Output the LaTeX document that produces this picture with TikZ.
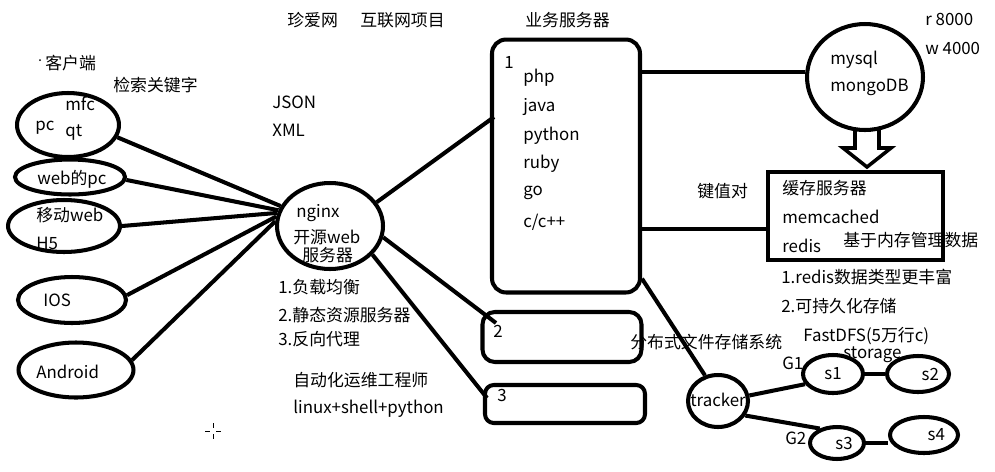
\documentclass[tikz,border=0pt]{standalone}
\usepackage{fontspec}
\setmainfont{Noto Sans CJK SC}
\usetikzlibrary{shapes.geometric}

\begin{document}
\begin{tikzpicture}[x=0.02cm,y=-0.02cm,
  every node/.style={inner sep=0pt,font=\fontsize{9.6}{11}\selectfont},
  t/.style={anchor=west},
  oval/.style={ellipse,draw,line width=2.3pt},
  box/.style={draw,line width=2.3pt},
  link/.style={line width=2.3pt}]
  \useasboundingbox (0,0) rectangle (995,471);

  % titles
  \node[t] (zhenai) at (287,20) {珍爱网};
  \node[t] (proj) at (360,20) {互联网项目};
  \node[t] (biz) at (525,20) {业务服务器};
  \node[t] (r8) at (925,19) {r 8000};
  \node[t] (w4) at (925,48) {w 4000};

  % clients
  \node[t] (kehu) at (45,63) {客户端};
  \fill (40,60) circle (1);
  \node[t] (jiansuo) at (113,85) {检索关键字};
  \node[oval,minimum width=2.04cm,minimum height=1.28cm] (pc) at (68,125) {};
  \node[t] (mfc) at (65,104) {mfc};
  \node[t] (pct) at (35,128) {pc};
  \node[t] (qt) at (65,133) {qt};
  \node[oval,minimum width=2.2cm,minimum height=0.7cm] (webpc) at (70,177) {};
  \node[t] (webpct) at (37,179) {web的pc};
  \node[oval,minimum width=2.24cm,minimum height=1.04cm] (mob) at (64,226) {};
  \node[t] (mobt) at (36,215) {移动web};
  \node[t] (h5) at (36,243) {H5};
  \node[oval,minimum width=2.16cm,minimum height=0.92cm] (ios) at (72,300) {};
  \node[t] (iost) at (43,300) {IOS};
  \node[oval,minimum width=2.3cm,minimum height=1.1cm] (andr) at (76,370) {};
  \node[t] (andrt) at (36,372) {Android};

  \node[t] (json) at (272,102) {JSON};
  \node[t] (xml) at (272,130) {XML};

  % nginx
  \node[oval,minimum width=2.12cm,minimum height=1.72cm] (nginx) at (330,226) {};
  \node[t] (ngt) at (296,213) {nginx};
  \node[t] (kaiyuan) at (293,237) {开源web};
  \node[t] (fwq) at (302,255) {服务器};
  \node[t] (n1) at (278,287) {1.负载均衡};
  \node[t] (n2) at (278,315) {2.静态资源服务器};
  \node[t] (n3) at (278,339) {3.反向代理};
  \node[t] (ops) at (293,380) {自动化运维工程师};
  \node[t] (lsp) at (293,409) {linux+shell+python};

  % business servers
  \node[box,rounded corners=8pt,minimum width=2.96cm,minimum height=5.06cm] (box1) at (566,166) {};
  \node[t] (one) at (504,62) {1};
  \node[t] (php) at (523,78) {php};
  \node[t] (java) at (523,107) {java};
  \node[t] (py) at (523,136) {python};
  \node[t] (ruby) at (523,164) {ruby};
  \node[t] (go) at (523,193) {go};
  \node[t] (cpp) at (523,222) {c/c++};
  \node[box,rounded corners=7pt,minimum width=3.18cm,minimum height=1cm] (box2) at (562,337) {};
  \node[t] (two) at (493,331) {2};
  \node[box,rounded corners=5pt,minimum width=3.2cm,minimum height=0.76cm] (box3) at (565,404) {};
  \node[t] (three) at (497,395) {3};

  % databases
  \node[oval,minimum width=2.32cm,minimum height=2.12cm] (mysql) at (865,77) {};
  \node[t] (mysqlt) at (830,60) {mysql};
  \node[t] (mongo) at (830,87) {mongoDB};
  \node[box,minimum width=3.5cm,minimum height=1.76cm] (cache) at (855.5,216) {};
  \node[t] (hc) at (782,188) {缓存服务器};
  \node[t] (memc) at (782,217) {memcached};
  \node[t] (redis) at (782,246) {redis};
  \node[t] (mem) at (843,240) {基于内存管理数据};
  \node[t] (kv) at (697,191) {键值对};
  \node[t] (r1) at (781,277) {1.redis数据类型更丰富};
  \node[t] (r2) at (781,306) {2.可持久化存储};

  % FastDFS
  \node[t] (dfs) at (630,342) {分布式文件存储系统};
  \node[t] (fast) at (803,336) {FastDFS(5万行c)};
  \node[t] (stor) at (843,355) {storage};
  \node[oval,minimum width=1.2cm,minimum height=1.04cm] (tracker) at (718,401) {};
  \node[t] (trt) at (690,400) {tracker};
  \node[t] (g1) at (782,363) {G1};
  \node[t] (g2) at (785,438) {G2};
  \node[oval,minimum width=1.2cm,minimum height=0.76cm] (s1) at (833,374) {s1};
  \node[oval,minimum width=1.24cm,minimum height=0.72cm] (s2) at (918,374) {\hspace{14pt}s2};
  \node[oval,minimum width=1.08cm,minimum height=0.64cm] (s3) at (837,443) {\hspace{8pt}s3};
  \node[oval,minimum width=1.36cm,minimum height=0.72cm] (s4) at (924,435) {\hspace{14pt}s4};

  \coordinate (b1a) at (494,117);
  \coordinate (b2a) at (496,323);
  \coordinate (b3a) at (487,398);

  \draw[link] (pc.-14) -- (nginx.158);
  \draw[link] (webpc.-3) -- (nginx.163);
  \draw[link] (mob.0) -- (nginx.166);
  \draw[link] (ios.5) -- (nginx.170);
  \draw[link] (andr.10) -- (nginx.175);
  \draw[link] (nginx.27) -- (b1a);
  \draw[link] (nginx.-12) -- (b2a);
  \draw[link] (nginx.-34) -- (b3a);
  \draw[link] (box1.east |- mysql.175) -- (mysql.175);
  \draw[link] (box1.east |- cache.-172) -- (cache.-172);
  \draw[link] (box1.-56) -- (tracker.117);
  \draw[link] (tracker.10) -- (s1.200);
  \draw[link] (tracker.-28) -- (s3.140);
  \draw[link] (s1) -- (s2);
  \draw[link] (s3.east) -- (s3.east -| s4.west);

  % hollow arrow
  \draw[line width=2pt,line join=miter] (855,130) -- (855,148) -- (843,148) -- (867,167) -- (891,148) -- (879,148) -- (879,130);

  % cursor
  \draw[line width=0.5pt] (205,431) -- (210,431) (216,431) -- (221,431) (213,423) -- (213,428) (213,434) -- (213,439);
\end{tikzpicture}
\end{document}
